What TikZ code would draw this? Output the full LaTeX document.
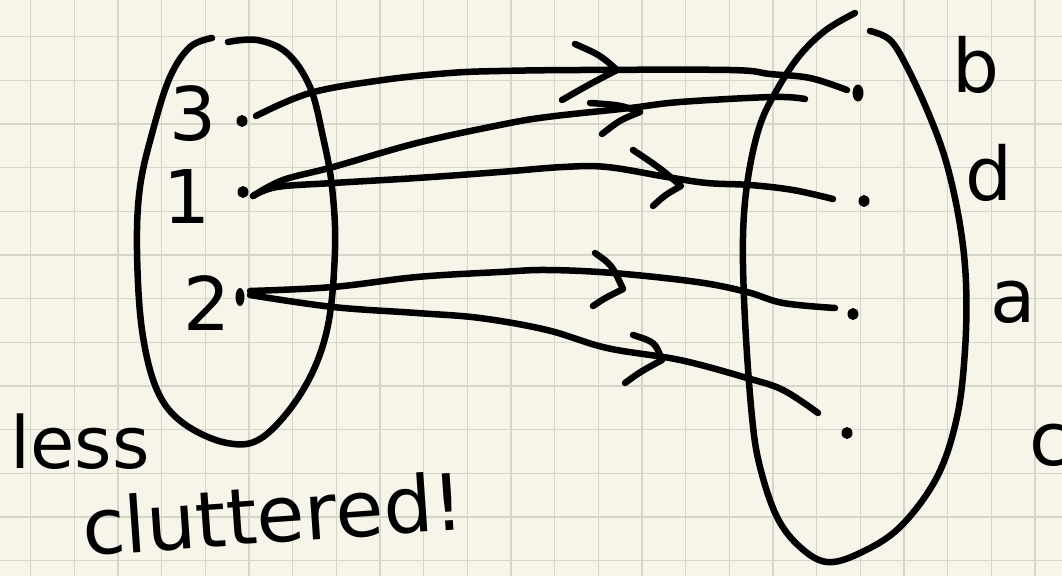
\documentclass[tikz,border=0pt]{standalone}
\usepackage{fontspec}
\setmainfont{DejaVu Sans}
\usetikzlibrary{shapes.geometric}
\definecolor{paper}{HTML}{F7F5E9}
\definecolor{gridc}{HTML}{D5D5CA}
\begin{document}
\begin{tikzpicture}[x=1pt,y=-1pt,
  ink/.style={line width=6.5pt,line cap=round,line join=round,black},
  conn/.style={ink},
  chev/.style={ink},
  hand/.style={font=\fontsize{74}{80}\selectfont,inner sep=0pt,text=black},
  dotmark/.style={ellipse,fill=black,inner sep=0pt,minimum width=11pt,minimum height=12pt},
]
\fill[paper] (0,0) rectangle (1062,576);
\useasboundingbox (0,0) rectangle (1062,576);
\foreach \i in {0,...,23} \draw[gridc,line width=1.3pt] ({30.7+43.67*\i},0) -- ({30.7+43.67*\i},576);
\foreach \j in {0,...,12} \draw[gridc,line width=1.3pt] (0,{36.7+43.67*\j}) -- (1062,{36.7+43.67*\j});

% left oval (domain)
\draw[ink] plot[smooth,tension=0.6] coordinates {(228,42) (257,40) (287,53) (310,87) (323,137) (332,187) (335,250) (327,330) (303,390) (263,437) (227,443) (183,423) (157,390) (142,330) (137,250) (140,187) (153,130) (170,77) (190,47) (212,38)};
% right oval (codomain)
\draw[ink] plot[smooth,tension=0.6] coordinates {(855,13) (826,30) (800,55) (778,88) (760,125) (748,178) (743,237) (745,320) (752,417) (760,467) (777,517) (800,547) (827,562) (860,553) (900,527) (937,477) (957,417) (965,350) (966,283) (960,225) (947,165) (930,117) (907,67) (890,40) (870,31)};

% labels
\node[hand,anchor=base] (l3) at (193,140) {3};
\node[hand,anchor=base] (l1) at (187,223) {1};
\node[hand,anchor=base] (l2) at (207,330) {2};
\node[hand,anchor=base] (lb) at (976,92) {b};
\node[hand,anchor=base] (ld) at (989,200) {d};
\node[hand,anchor=base] (la) at (1013,322) {a};
\node[hand,anchor=base] (lc) at (1050,465) {c};
\node[hand,anchor=base west,font=\fontsize{72}{80}\selectfont] (less) at (10,468) {less};
\node[hand,anchor=base west,rotate=4,font=\fontsize{78}{84}\selectfont] (clut) at (84,556) {cluttered!};

% dots
\node[dotmark] (d3) at (242,121) {};
\node[dotmark] (d1) at (243,192) {};
\node[dotmark,minimum height=18pt,minimum width=9pt] (d2) at (240,297) {};
\node[dotmark,minimum height=17pt] (db) at (858,93) {};
\node[dotmark] (dd) at (864,201) {};
\node[dotmark] (da) at (853,314) {};
\node[dotmark] (dc) at (847,433) {};

% connector end points
\coordinate (s3) at (256,116);
\coordinate (s1) at (253,196);
\coordinate (s2a) at (250,291);
\coordinate (s2b) at (250,295);
\coordinate (e3) at (847,90);
\coordinate (e1b) at (805,99);
\coordinate (e1d) at (833,199);
\coordinate (e2a) at (835,308);
\coordinate (e2c) at (818,413);

% connectors
\draw[conn] plot[smooth,tension=0.6] coordinates {(s3) (310,93) (383,80) (450,73) (500,71) (580,70) (730,70) (770,74) (810,78) (e3)};
\draw[conn] plot[smooth,tension=0.6] coordinates {(s1) (283,180) (333,167) (417,143) (500,125) (547,117) (630,108) (680,102) (773,97) (e1b)};
\draw[conn] plot[smooth,tension=0.6] coordinates {(s1) (277,187) (333,183) (417,178) (500,172) (563,167) (607,167) (667,177) (707,183) (750,185) (793,190) (e1d)};
\draw[conn] plot[smooth,tension=0.6] coordinates {(s2a) (333,287) (417,277) (500,272) (547,270) (613,273) (697,282) (747,292) (783,303) (e2a)};
\draw[conn] plot[smooth,tension=0.6] coordinates {(s2b) (333,307) (417,313) (480,318) (547,330) (607,348) (680,360) (747,378) (783,390) (e2c)};

% chevrons
\draw[chev] (575,44) .. controls (600,55) .. (617,70) .. controls (590,84) .. (562,100);
\draw[chev] (590,103) .. controls (620,105) .. (640,112) .. controls (620,120) .. (602,134);
\draw[chev] (633,150) .. controls (660,168) .. (681,186) .. controls (665,195) .. (653,206);
\draw[chev] (595,253) .. controls (612,265) .. (623,289) .. controls (605,298) .. (593,306);
\draw[chev] (633,335) .. controls (655,342) .. (662,360) .. controls (640,372) .. (625,383);
\end{tikzpicture}
\end{document}
